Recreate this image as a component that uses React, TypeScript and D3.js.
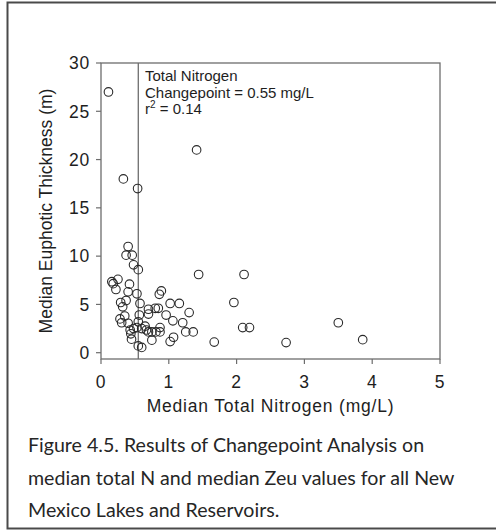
import React from "react";
import * as d3 from "d3";

// Median total nitrogen (mg/L) per lake / reservoir
const totalN = [
  0.11, 1.41, 0.33, 0.54, 0.40, 0.37, 0.46, 0.48, 0.55, 1.44, 2.11,
  0.16, 0.25, 0.18, 0.22, 0.42, 0.40, 0.53, 0.89, 0.86, 0.29, 0.32,
  0.37, 0.575, 1.02, 1.155, 1.96, 0.35, 0.70, 0.80, 0.845, 0.70, 0.565,
  0.96, 1.30, 0.28, 0.305, 0.40, 0.55, 1.06, 1.205, 0.65, 0.48, 0.43,
  0.53, 0.67, 0.75, 0.81, 0.87, 0.87, 0.70, 0.60, 1.25, 1.36, 2.09,
  2.19, 0.44, 0.45, 0.75, 1.07, 1.02, 1.67, 0.55, 0.60, 2.73, 3.50, 3.86,
];

// Median euphotic thickness (m), same order as totalN
const zeu = [
  27.0, 21.0, 18.0, 17.0, 11.0, 10.1, 10.1, 9.1, 8.6, 8.1, 8.1,
  7.35, 7.6, 7.15, 6.55, 7.1, 6.3, 6.1, 6.4, 6.05, 5.2, 4.75,
  5.4, 5.1, 5.1, 5.1, 5.2, 3.8, 4.5, 4.6, 4.6, 4.0, 3.9,
  3.9, 4.15, 3.5, 3.1, 3.05, 3.2, 3.3, 3.1, 2.75, 2.5, 2.35,
  2.6, 2.35, 2.15, 2.15, 2.15, 2.6, 2.15, 2.5, 2.15, 2.15, 2.6,
  2.6, 1.95, 1.4, 1.3, 1.6, 1.15, 1.1, 0.7, 0.55, 1.05, 3.1, 1.35,
];

const xTicks = [0, 1, 2, 3, 4, 5];
const yTicks = [0, 5, 10, 15, 20, 25, 30];

const changepoint = 0.55;
const annotation = ["Total Nitrogen", "Changepoint = 0.55 mg/L"];
const rSquared = "0.14";

const captionLines = [
  "Figure 4.5. Results of Changepoint Analysis on",
  "median total N and median Zeu values for all New",
  "Mexico Lakes and Reservoirs.",
];

const W = 496;
const H = 531;
const plot = { left: 101, right: 440, top: 63, bottom: 359 };

export default function App() {
  const x = d3.scaleLinear().domain([0, 5]).range([plot.left, plot.right]);
  const y = d3.scaleLinear().domain([0, 30]).range([352.7, plot.top]);

  const axisColor = "#6d6d6d";
  const textColor = "#1e1e1e";
  const font = "'Liberation Sans', Arial, sans-serif";
  const axisFont = { fontFamily: font, fontSize: 17.5, letterSpacing: 0.8 };

  return (
    <svg
      width={W}
      height={H}
      style={{ position: "absolute", left: 0, top: 0, background: "#fff" }}
    >
      {/* outer figure frame */}
      <rect
        x={7.5}
        y={2.5}
        width={500}
        height={526}
        fill="none"
        stroke="#4a4a4a"
        strokeWidth={2}
      />

      {/* plot box */}
      <rect
        x={plot.left}
        y={plot.top}
        width={plot.right - plot.left}
        height={plot.bottom - plot.top}
        fill="none"
        stroke={axisColor}
        strokeWidth={1.3}
      />

      {/* changepoint line */}
      <line
        x1={x(changepoint)}
        x2={x(changepoint)}
        y1={plot.top}
        y2={plot.bottom}
        stroke={axisColor}
        strokeWidth={1.3}
      />

      {/* y axis ticks + labels */}
      {yTicks.map((t) => (
        <g key={"y" + t}>
          <line
            x1={plot.left - 5}
            x2={plot.left}
            y1={y(t)}
            y2={y(t)}
            stroke={axisColor}
            strokeWidth={1.2}
          />
          <text
            x={plot.left - 11}
            y={y(t)}
            dy="0.36em"
            textAnchor="end"
            {...axisFont}
            fill={textColor}
          >
            {t}
          </text>
        </g>
      ))}

      {/* x axis ticks + labels */}
      {xTicks.map((t) => (
        <g key={"x" + t}>
          <line
            x1={x(t)}
            x2={x(t)}
            y1={plot.bottom}
            y2={plot.bottom + 5}
            stroke={axisColor}
            strokeWidth={1.2}
          />
          <text
            x={x(t)}
            y={388}
            textAnchor="middle"
            {...axisFont}
            fill={textColor}
          >
            {t}
          </text>
        </g>
      ))}

      {/* axis titles */}
      <text
        x={(plot.left + plot.right) / 2}
        y={412}
        textAnchor="middle"
        {...axisFont}
        fill={textColor}
      >
        Median Total Nitrogen (mg/L)
      </text>
      <text
        transform={`translate(52, ${(plot.top + plot.bottom) / 2}) rotate(-90)`}
        textAnchor="middle"
        fontFamily={font}
        fontSize={17.5}
        fill={textColor}
      >
        Median Euphotic Thickness (m)
      </text>

      {/* annotation */}
      <g fontFamily={font} fontSize={15} fill={textColor}>
        <text x={145} y={81}>
          {annotation[0]}
        </text>
        <text x={145} y={97.5}>
          {annotation[1]}
        </text>
        <text x={145} y={114}>
          r<tspan dy={-6} fontSize={10}>2</tspan>
          <tspan dy={6}>{" = " + rSquared}</tspan>
        </text>
      </g>

      {/* data points */}
      {totalN.map((v, i) => (
        <circle
          key={i}
          cx={x(v)}
          cy={y(zeu[i])}
          r={4.3}
          fill="none"
          stroke="#2a2a2a"
          strokeWidth={1.1}
        />
      ))}

      {/* caption */}
      <g fontFamily="Lato, 'Open Sans', sans-serif" fontSize={19.6} fill="#262626">
        {captionLines.map((line, i) => (
          <text key={i} x={28} y={452 + i * 32.5}>
            {line}
          </text>
        ))}
      </g>
    </svg>
  );
}
